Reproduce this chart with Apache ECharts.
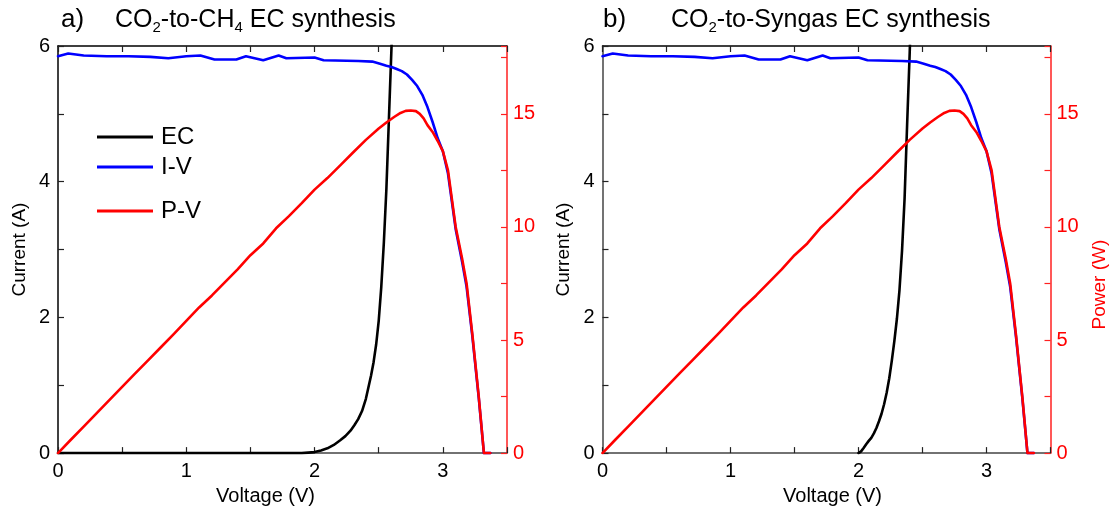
<!DOCTYPE html>
<html><head><meta charset="utf-8">
<script src="https://cdn.jsdelivr.net/npm/echarts@6/dist/echarts.min.js"></script>
<style>html,body{margin:0;padding:0;background:#fff}#c{width:1118px;height:511px}</style>
</head><body><div id="c"></div>
<script>
// ---- data ----
const ivVoltage = [0, 0.08, 0.2, 0.38, 0.55, 0.72, 0.86, 1.0, 1.11, 1.22, 1.39, 1.465, 1.6, 1.72, 1.78, 2.0, 2.07, 2.34, 2.45, 2.51, 2.56, 2.6, 2.64, 2.68, 2.72, 2.76, 2.8, 2.84, 2.88, 2.92, 2.96, 3.0, 3.04, 3.1, 3.15, 3.185, 3.23, 3.28, 3.32, 3.37];
const ivCurrent = [5.85, 5.89, 5.86, 5.85, 5.85, 5.84, 5.82, 5.85, 5.86, 5.80, 5.80, 5.85, 5.79, 5.86, 5.82, 5.83, 5.79, 5.78, 5.77, 5.74, 5.71, 5.69, 5.66, 5.63, 5.58, 5.50, 5.41, 5.28, 5.10, 4.88, 4.64, 4.45, 4.12, 3.30, 2.82, 2.45, 1.72, 0.81, 0, 0];

const pvVoltage = [0, 0.1, 0.2, 0.3, 0.4, 0.5, 0.6, 0.7, 0.8, 0.9, 1.0, 1.1, 1.2, 1.3, 1.4, 1.5, 1.6, 1.7, 1.8, 1.9, 2.0, 2.1, 2.2, 2.3, 2.4, 2.5, 2.56, 2.62, 2.67, 2.71, 2.75, 2.79, 2.82, 2.85, 2.88, 2.92, 2.96, 3.0, 3.04, 3.1, 3.15, 3.185, 3.23, 3.28, 3.32, 3.37];
const pvPower = [0, 0.59, 1.17, 1.76, 2.34, 2.93, 3.51, 4.09, 4.67, 5.25, 5.85, 6.44, 6.97, 7.55, 8.12, 8.75, 9.27, 9.94, 10.48, 11.05, 11.65, 12.16, 12.72, 13.29, 13.85, 14.35, 14.62, 14.86, 15.04, 15.13, 15.15, 15.12, 15.0, 14.8, 14.5, 14.2, 13.8, 13.35, 12.5, 10.0, 8.6, 7.5, 5.25, 2.49, 0, 0];

const ecAVoltage = [0, 1.9, 2.0, 2.05, 2.1, 2.15, 2.2, 2.24, 2.28, 2.31, 2.34, 2.37, 2.4, 2.42, 2.44, 2.46, 2.48, 2.5, 2.52, 2.54, 2.56, 2.58, 2.6, 2.61];
const ecACurrent = [0, 0, 0.015, 0.04, 0.07, 0.12, 0.19, 0.25, 0.33, 0.41, 0.5, 0.62, 0.8, 0.97, 1.14, 1.34, 1.6, 1.95, 2.45, 3.1, 3.9, 4.95, 6.0, 6.6];

const ecBVoltage = [2.0, 2.02, 2.04, 2.06, 2.08, 2.1, 2.12, 2.14, 2.16, 2.18, 2.2, 2.22, 2.24, 2.26, 2.28, 2.3, 2.32, 2.34, 2.36, 2.38, 2.4, 2.41];
const ecBCurrent = [0, 0.025, 0.075, 0.13, 0.18, 0.225, 0.29, 0.37, 0.47, 0.58, 0.72, 0.89, 1.1, 1.36, 1.65, 1.98, 2.4, 2.98, 3.75, 4.85, 5.9, 6.5];

const voltageTicks = [0, 1, 2, 3];
const currentTicks = [0, 2, 4, 6];
const powerTicks = [0, 5, 10, 15];
const legendNames = ['EC', 'I-V', 'P-V'];

// ---- chart ----
const FONT = "'Liberation Sans', Arial, sans-serif";
const zip = (a, b) => a.map((v, i) => [v, b[i]]);
const chart = echarts.init(document.getElementById('c'), null, {renderer: 'canvas'});

function xBottom(gi, padding) {
  return {
    type: 'value', gridIndex: gi, min: 0, max: 3.5, interval: 0.5, position: 'bottom',
    axisLine: {show: true, onZero: false, lineStyle: {color: '#444', width: 1.5}},
    axisTick: {show: true, inside: true, length: 6, lineStyle: {color: '#222', width: 1.2}},
    axisLabel: {formatter: v => voltageTicks.includes(v) ? String(v) : '', color: '#000', fontSize: 20, margin: 8, fontFamily: FONT},
    splitLine: {show: false},
    name: 'Voltage (V)', nameLocation: 'middle', nameGap: 30,
    nameTextStyle: {color: '#000', fontSize: 20, fontFamily: FONT, padding: padding}
  };
}
function xTop(gi) {
  return {
    type: 'value', gridIndex: gi, min: 0, max: 3.5, interval: 0.5, position: 'top',
    axisLine: {show: true, onZero: false, lineStyle: {color: '#000', width: 1.5}},
    axisTick: {show: true, inside: true, length: 6, lineStyle: {color: '#222', width: 1.2}},
    axisLabel: {show: false}, splitLine: {show: false}
  };
}
function yLeft(gi, lineColor) {
  return {
    type: 'value', gridIndex: gi, min: 0, max: 6, interval: 1, position: 'left',
    axisLine: {show: true, onZero: false, lineStyle: {color: lineColor, width: 1.5}},
    axisTick: {show: true, inside: true, length: 6, lineStyle: {color: '#222', width: 1.2}},
    axisLabel: {formatter: v => currentTicks.includes(v) ? String(v) : '', color: '#000', fontSize: 20, margin: 8, fontFamily: FONT},
    splitLine: {show: false},
    name: 'Current (A)', nameLocation: 'middle', nameGap: 29, nameRotate: 90,
    nameTextStyle: {color: '#000', fontSize: 19, fontFamily: FONT}
  };
}
function yRight(gi, withName) {
  const ax = {
    type: 'value', gridIndex: gi, min: 0, max: 18, interval: 2.5, position: 'right',
    axisLine: {show: true, onZero: false, lineStyle: {color: '#ff2020', width: 1.5}},
    axisTick: {show: true, inside: true, length: 6, lineStyle: {color: '#ff2020', width: 1.2}},
    axisLabel: {formatter: v => powerTicks.includes(v) ? String(v) : '', color: '#ff0000', fontSize: 20, margin: 6, fontFamily: FONT},
    splitLine: {show: false}
  };
  if (withName) {
    ax.name = 'Power (W)'; ax.nameLocation = 'middle'; ax.nameGap = 40; ax.nameRotate = 90;
    ax.nameTextStyle = {color: '#ff0000', fontSize: 19, fontFamily: FONT, padding: [0, 70, 0, 0]};
  }
  return ax;
}
function lineSeries(name, xi, yi, data, color, extra) {
  return Object.assign({
    name: name, type: 'line', xAxisIndex: xi, yAxisIndex: yi, data: data,
    showSymbol: false, symbol: 'none', clip: true, animation: false,
    lineStyle: {color: color, width: 2.6, join: 'round', cap: 'round'}, itemStyle: {color: color}
  }, extra || {});
}

const titleRich = {
  t: {fontSize: 25, lineHeight: 30, color: '#000', fontWeight: 'normal', fontFamily: FONT},
  s: {fontSize: 15, lineHeight: 10, verticalAlign: 'bottom', color: '#000', fontWeight: 'normal', fontFamily: FONT}
};

const legendCommon = {
  orient: 'vertical', left: 97, padding: 0, itemGap: 0, itemWidth: 56, itemHeight: 3,
  icon: 'rect', selectedMode: false,
  textStyle: {fontSize: 24, lineHeight: 30, color: '#000', fontFamily: FONT, padding: [0, 0, 0, 3]}
};

chart.setOption({
  animation: false,
  backgroundColor: '#fff',
  textStyle: {fontFamily: FONT},
  title: [
    {text: 'a)', left: 61, top: 5, padding: 0, textStyle: {fontSize: 26, fontWeight: 'normal', color: '#000', fontFamily: FONT, lineHeight: 30}},
    {text: '{t|CO}{s|2}{t|-to-CH}{s|4}{t| EC synthesis}', left: 115, top: 5, padding: 0, textStyle: {fontWeight: 'normal', rich: titleRich}},
    {text: 'b)', left: 603, top: 5, padding: 0, textStyle: {fontSize: 26, fontWeight: 'normal', color: '#000', fontFamily: FONT, lineHeight: 30}},
    {text: '{t|CO}{s|2}{t|-to-Syngas EC synthesis}', left: 671, top: 5, padding: 0, textStyle: {fontWeight: 'normal', rich: titleRich}}
  ],
  legend: [
    Object.assign({data: legendNames.slice(0, 2), top: 122}, legendCommon),
    Object.assign({data: legendNames.slice(2), top: 196}, legendCommon)
  ],
  grid: [
    {left: 58, top: 46, width: 449, height: 410, containLabel: false},
    {left: 602.5, top: 46, width: 448, height: 410, containLabel: false}
  ],
  xAxis: [xBottom(0, [0, 34, 0, 0]), xTop(0), xBottom(1, [0, 0, 0, 12]), xTop(1)],
  yAxis: [yLeft(0, '#000'), yRight(0, false), yLeft(1, '#444'), yRight(1, true)],
  series: [
    lineSeries('EC', 0, 0, zip(ecAVoltage, ecACurrent), '#000000', {z: 2}),
    lineSeries('I-V', 0, 0, zip(ivVoltage, ivCurrent), '#0000ff', {z: 3}),
    lineSeries('P-V', 0, 1, zip(pvVoltage, pvPower), '#ff0000', {z: 4}),
    lineSeries('EC', 2, 2, zip(ecBVoltage, ecBCurrent), '#000000', {z: 2}),
    lineSeries('I-V', 2, 2, zip(ivVoltage, ivCurrent), '#0000ff', {z: 3}),
    lineSeries('P-V', 2, 3, zip(pvVoltage, pvPower), '#ff0000', {z: 4})
  ]
});
</script>
</body></html>
